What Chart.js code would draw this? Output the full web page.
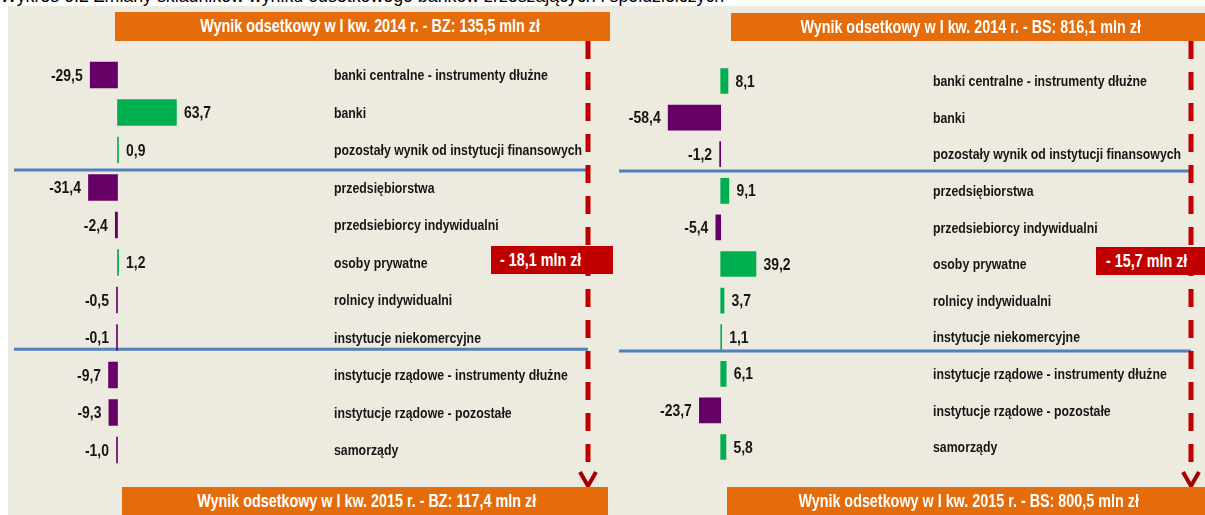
<!DOCTYPE html>
<html lang="pl">
<head>
<meta charset="utf-8">
<title>Zmiany składników wyniku odsetkowego</title>
<script src="https://cdn.jsdelivr.net/npm/chart.js@4.4.1/dist/chart.umd.min.js"></script>
<style>
  body {
    margin: 0;
    width: 1205px;
    height: 515px;
    overflow: hidden;
    position: relative;
    background: #fff;
    font-family: "Liberation Sans", Arial, sans-serif;
  }
  #caption {
    position: absolute;
    left: 0;
    top: -14px;
    font-size: 17.8px;
    line-height: 20px;
    color: #000;
    white-space: nowrap;
  }
  #panel {
    position: absolute;
    left: 8px;
    top: 6px;
    width: 1197px;
    height: 509px;
    background: #edeae0;
  }
  canvas {
    position: absolute;
    top: 0;
  }
  .box, .diff {
    position: absolute;
    color: #fff;
    font: bold 17.5px "Liberation Sans", Arial, sans-serif;
    display: flex;
    align-items: center;
    white-space: nowrap;
    box-sizing: border-box;
  }
  .box {
    background: #e46c0a;
    justify-content: center;
  }
  .diff {
    background: #c00000;
  }
  /* brak fontu "narrow" - zwężamy zwykły */
  .box span {
    display: inline-block;
    transform: scaleX(0.82);
  }
  .diff span {
    display: inline-block;
    transform: scaleX(0.82);
    transform-origin: left center;
  }
</style>
</head>
<body>
<div id="caption">Wykres 6.2 Zmiany składników wyniku odsetkowego banków zrzeszających i spółdzielczych</div>
<div id="panel"></div>

<canvas id="chartBZ" width="615" height="515" style="left:0"></canvas>
<canvas id="chartBS" width="590" height="515" style="left:615px"></canvas>

<div class="box" style="left:115px;top:12px;width:495px;height:29px;padding-left:16px"><span id="topBZ"></span></div>
<div class="box" style="left:122px;top:487px;width:486px;height:28px;padding-left:4px"><span id="botBZ"></span></div>
<div class="box" style="left:731px;top:13px;width:474px;height:28px;padding-left:6px"><span id="topBS"></span></div>
<div class="box" style="left:727px;top:487px;width:478px;height:28px;padding-left:6px"><span id="botBS"></span></div>
<div class="diff" style="left:491px;top:246px;width:122px;height:28px;padding-left:9px"><span id="diffBZ"></span></div>
<div class="diff" style="left:1096px;top:247px;width:109px;height:28px;padding-left:10px"><span id="diffBS"></span></div>

<script>
const categories = [
  "banki centralne - instrumenty dłużne",
  "banki",
  "pozostały wynik od instytucji finansowych",
  "przedsiębiorstwa",
  "przedsiebiorcy indywidualni",
  "osoby prywatne",
  "rolnicy indywidualni",
  "instytucje niekomercyjne",
  "instytucje rządowe - instrumenty dłużne",
  "instytucje rządowe - pozostałe",
  "samorządy",
];

// zmiany w mln zł
const bzValues = [-29.5, 63.7, 0.9, -31.4, -2.4, 1.2, -0.5, -0.1, -9.7, -9.3, -1.0];
const bsValues = [8.1, -58.4, -1.2, 9.1, -5.4, 39.2, 3.7, 1.1, 6.1, -23.7, 5.8];

const bzTotals = { start: "135,5", end: "117,4", change: "18,1" };
const bsTotals = { start: "816,1", end: "800,5", change: "15,7" };

const GREEN = "#00b050";
const PURPLE = "#660066";
const FONT = '"Liberation Sans", Arial, sans-serif';
const SQUEEZE = 0.82;

function fmt(v) {
  return v.toFixed(1).replace(".", ",");
}

// tekst zwężony jak Arial Narrow
function narrowText(ctx, txt, x, y) {
  ctx.save();
  ctx.translate(x, y);
  ctx.scale(SQUEEZE, 1);
  ctx.fillText(txt, 0, 0);
  ctx.restore();
}

document.getElementById("topBZ").textContent = `Wynik odsetkowy w I kw. 2014 r. - BZ: ${bzTotals.start} mln zł`;
document.getElementById("botBZ").textContent = `Wynik odsetkowy w I kw. 2015 r. - BZ: ${bzTotals.end} mln zł`;
document.getElementById("topBS").textContent = `Wynik odsetkowy w I kw. 2014 r. - BS: ${bsTotals.start} mln zł`;
document.getElementById("botBS").textContent = `Wynik odsetkowy w I kw. 2015 r. - BS: ${bsTotals.end} mln zł`;
document.getElementById("diffBZ").textContent = `- ${bzTotals.change} mln zł`;
document.getElementById("diffBS").textContent = `- ${bsTotals.change} mln zł`;

// etykiety wartości, nazwy kategorii, linie podziału i strzałka
const decorPlugin = {
  id: "decor",
  beforeDatasetsDraw(chart, args, opts) {
    const ctx = chart.ctx;
    const y = chart.scales.y;
    ctx.save();
    ctx.strokeStyle = "#4f81bd";
    ctx.lineWidth = 3;
    opts.separators.forEach((s) => {
      const py = y.getPixelForValue(s);
      ctx.beginPath();
      ctx.moveTo(opts.sepFrom, py);
      ctx.lineTo(opts.arrowX, py);
      ctx.stroke();
    });
    ctx.restore();
  },
  afterDatasetsDraw(chart, args, opts) {
    const ctx = chart.ctx;
    const meta = chart.getDatasetMeta(0);
    const values = chart.data.datasets[0].data;
    const y = chart.scales.y;
    ctx.save();
    ctx.fillStyle = "#161616";
    ctx.textBaseline = "middle";
    ctx.font = `bold 17px ${FONT}`;
    meta.data.forEach((bar, i) => {
      const v = values[i];
      if (v < 0) {
        ctx.textAlign = "right";
        narrowText(ctx, fmt(v), bar.x - 7.5, bar.y + 1);
      } else {
        ctx.textAlign = "left";
        narrowText(ctx, fmt(v), bar.x + 7.5, bar.y + 1);
      }
    });
    ctx.font = `bold 15px ${FONT}`;
    ctx.textAlign = "left";
    chart.data.labels.forEach((lab, i) => {
      narrowText(ctx, lab, opts.labelX, y.getPixelForValue(i) + 1);
    });

    // czerwona przerywana linia ze strzałką
    ctx.strokeStyle = "#c00000";
    ctx.lineWidth = 5;
    ctx.setLineDash([18, 13]);
    ctx.beginPath();
    ctx.moveTo(opts.arrowX, 41);
    ctx.lineTo(opts.arrowX, 462);
    ctx.stroke();
    ctx.setLineDash([]);
    ctx.strokeStyle = "#a50000";
    ctx.lineWidth = 4;
    ctx.beginPath();
    ctx.moveTo(opts.arrowX - 8, 472);
    ctx.lineTo(opts.arrowX, 486);
    ctx.lineTo(opts.arrowX + 8, 472);
    ctx.stroke();
    ctx.restore();
  },
};

function makeChart(id, values, cfg) {
  const ctx = document.getElementById(id).getContext("2d");
  return new Chart(ctx, {
    type: "bar",
    data: {
      labels: categories,
      datasets: [
        {
          data: values,
          backgroundColor: values.map((v) => (v < 0 ? PURPLE : GREEN)),
          borderWidth: 0,
          barThickness: cfg.barThickness,
          minBarLength: 1,
        },
      ],
    },
    options: {
      indexAxis: "y",
      responsive: false,
      devicePixelRatio: 1,
      animation: false,
      layout: { padding: cfg.padding },
      scales: {
        x: { display: false, min: cfg.min, max: cfg.max },
        y: { display: false },
      },
      plugins: {
        legend: { display: false },
        tooltip: { enabled: false },
        decor: cfg.decor,
      },
    },
    plugins: [decorPlugin],
  });
}

makeChart("chartBZ", bzValues, {
  min: -60,
  max: 100,
  barThickness: 26,
  padding: { left: 62, right: 405, top: 56.25, bottom: 46.25 },
  decor: { labelX: 334, sepFrom: 14, arrowX: 588, separators: [2.53, 7.31] },
});

makeChart("chartBS", bsValues, {
  min: -70,
  max: 100,
  barThickness: 25,
  padding: { left: 42.7, right: 394.3, top: 62.7, bottom: 49.7 },
  decor: { labelX: 318, sepFrom: 4, arrowX: 576, separators: [2.46, 7.38] },
});
</script>
</body>
</html>
